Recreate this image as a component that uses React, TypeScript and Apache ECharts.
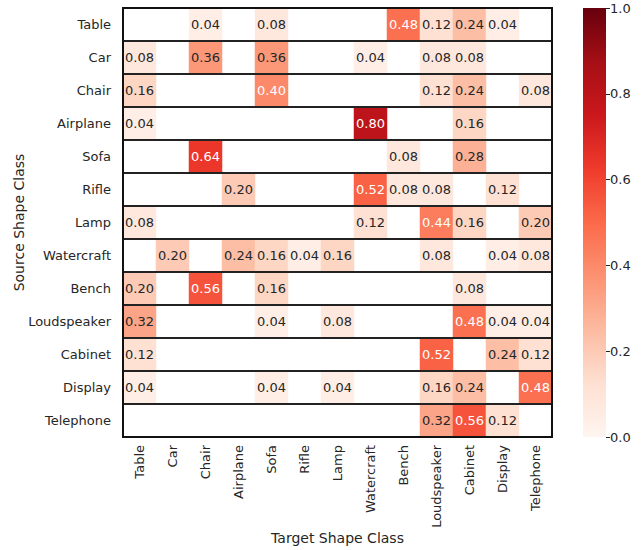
import React, { useEffect, useRef } from "react";
import * as echarts from "echarts";

const targetClasses = ["Table", "Car", "Chair", "Airplane", "Sofa", "Rifle", "Lamp", "Watercraft", "Bench", "Loudspeaker", "Cabinet", "Display", "Telephone"];
const sourceClasses = ["Table", "Car", "Chair", "Airplane", "Sofa", "Rifle", "Lamp", "Watercraft", "Bench", "Loudspeaker", "Cabinet", "Display", "Telephone"];

const rowTable = [0, 0, 0.04, 0, 0.08, 0, 0, 0, 0.48, 0.12, 0.24, 0.04, 0];
const rowCar = [0.08, 0, 0.36, 0, 0.36, 0, 0, 0.04, 0, 0.08, 0.08, 0, 0];
const rowChair = [0.16, 0, 0, 0, 0.40, 0, 0, 0, 0, 0.12, 0.24, 0, 0.08];
const rowAirplane = [0.04, 0, 0, 0, 0, 0, 0, 0.80, 0, 0, 0.16, 0, 0];
const rowSofa = [0, 0, 0.64, 0, 0, 0, 0, 0, 0.08, 0, 0.28, 0, 0];
const rowRifle = [0, 0, 0, 0.20, 0, 0, 0, 0.52, 0.08, 0.08, 0, 0.12, 0];
const rowLamp = [0.08, 0, 0, 0, 0, 0, 0, 0.12, 0, 0.44, 0.16, 0, 0.20];
const rowWatercraft = [0, 0.20, 0, 0.24, 0.16, 0.04, 0.16, 0, 0, 0.08, 0, 0.04, 0.08];
const rowBench = [0.20, 0, 0.56, 0, 0.16, 0, 0, 0, 0, 0, 0.08, 0, 0];
const rowLoudspeaker = [0.32, 0, 0, 0, 0.04, 0, 0.08, 0, 0, 0, 0.48, 0.04, 0.04];
const rowCabinet = [0.12, 0, 0, 0, 0, 0, 0, 0, 0, 0.52, 0, 0.24, 0.12];
const rowDisplay = [0.04, 0, 0, 0, 0.04, 0, 0.04, 0, 0, 0.16, 0.24, 0, 0.48];
const rowTelephone = [0, 0, 0, 0, 0, 0, 0, 0, 0, 0.32, 0.56, 0.12, 0];

const matrix = [rowTable, rowCar, rowChair, rowAirplane, rowSofa, rowRifle, rowLamp, rowWatercraft, rowBench, rowLoudspeaker, rowCabinet, rowDisplay, rowTelephone];

const redsColors = ["#fff5f0", "#fee0d2", "#fcbba1", "#fc9272", "#fb6a4a", "#ef3b2c", "#cb181d", "#a50f15", "#67000d"];

const FONT = "DejaVu Sans";
const TXT = "#262626";

const GL = 123, GT = 8, GW = 429, GH = 429;
const CB_L = 583, CB_W = 23;

export default function App() {
  const ref = useRef<HTMLDivElement>(null);
  useEffect(() => {
    if (!ref.current) return;
    const chart = echarts.init(ref.current, null, { renderer: "svg" });
    const data: any[] = [];
    matrix.forEach((row, r) => {
      row.forEach((v, c) => {
        if (v > 0) {
          data.push({
            value: [c, r, v],
            label: { color: v >= 0.4 ? "#ffffff" : TXT },
          });
        }
      });
    });
    const n = redsColors.length - 1;
    const stops = redsColors
      .map((col, i) => ({ offset: 1 - i / n, color: col }))
      .reverse();
    chart.setOption({
      animation: false,
      backgroundColor: "#ffffff",
      textStyle: { fontFamily: FONT },
      grid: [
        { left: GL, top: GT, width: GW, height: GH, containLabel: false, outerBoundsMode: "none" },
        { left: CB_L, top: GT, width: CB_W, height: GH, containLabel: false, outerBoundsMode: "none" },
      ],
      xAxis: [
        {
          type: "category",
          data: targetClasses,
          gridIndex: 0,
          position: "bottom",
          name: "Target Shape Class",
          nameLocation: "middle",
          nameMoveOverlap: false,
          nameGap: 94,
          nameTextStyle: { fontFamily: FONT, fontSize: 14, color: TXT },
          axisLine: { show: false },
          axisTick: { show: false },
          axisLabel: { rotate: 90, fontFamily: FONT, fontSize: 13, color: TXT, margin: 8, interval: 0 },
          splitLine: { show: false },
        },
        { type: "value", gridIndex: 1, show: false, min: 0, max: 1 },
      ],
      yAxis: [
        {
          type: "category",
          data: sourceClasses,
          gridIndex: 0,
          inverse: true,
          z: 10,
          name: "Source Shape Class",
          nameLocation: "middle",
          nameMoveOverlap: false,
          nameGap: 97,
          nameTextStyle: { fontFamily: FONT, fontSize: 14, color: TXT },
          axisLine: { show: false },
          axisTick: { show: false },
          axisLabel: { fontFamily: FONT, fontSize: 13, color: TXT, margin: 12, interval: 0 },
          splitLine: { show: true, interval: 0, lineStyle: { color: "#222222", width: 2 } },
        },
        {
          type: "value",
          gridIndex: 1,
          position: "right",
          min: 0,
          max: 1,
          interval: 0.2,
          z: 10,
          axisLine: { show: false, onZero: false },
          axisTick: { show: true, inside: false, length: 4, lineStyle: { color: TXT, width: 1 } },
          axisLabel: { fontFamily: FONT, fontSize: 13, color: TXT, margin: 4, formatter: (v: number) => v.toFixed(1) },
          splitLine: { show: false },
        },
      ],
      visualMap: {
        show: false,
        type: "continuous",
        seriesIndex: 0,
        min: 0,
        max: 1,
        dimension: 2,
        inRange: { color: redsColors },
      },
      graphic: [
        {
          type: "rect",
          shape: { x: CB_L, y: GT, width: CB_W, height: GH },
          style: { fill: new echarts.graphic.LinearGradient(0, 0, 0, 1, stops) },
          z: -1,
        },
        {
          type: "rect",
          shape: { x: GL, y: GT, width: GW, height: GH },
          style: { fill: "none", stroke: "#111111", lineWidth: 2 },
          z: 100,
        },
      ],
      series: [
        {
          type: "heatmap",
          xAxisIndex: 0,
          yAxisIndex: 0,
          data,
          label: {
            show: true,
            fontFamily: FONT,
            fontSize: 13,
            formatter: (p: any) => p.value[2].toFixed(2),
          },
          itemStyle: { borderWidth: 0 },
          emphasis: { disabled: true },
        },
      ],
    });
    return () => chart.dispose();
  }, []);
  return <div ref={ref} style={{ position: "fixed", left: 0, top: 0, width: 643, height: 550 }} />;
}
